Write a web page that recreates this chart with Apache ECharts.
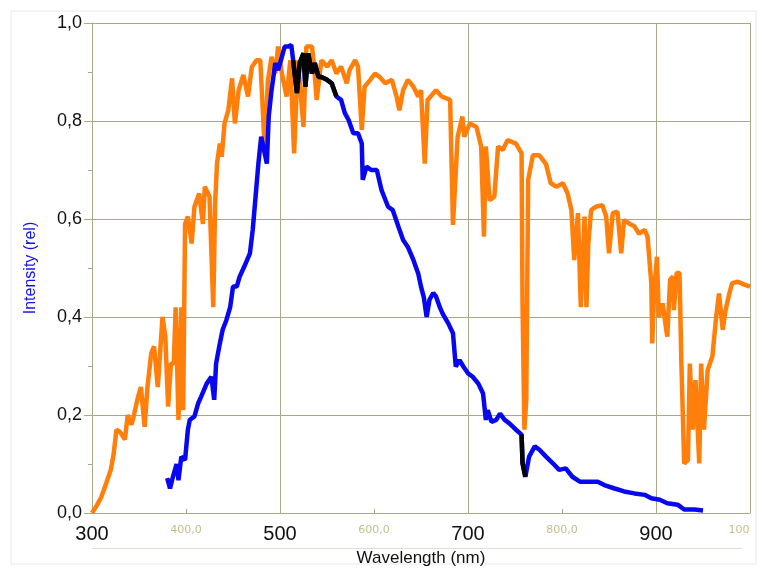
<!DOCTYPE html>
<html>
<head>
<meta charset="utf-8">
<script src="https://cdn.jsdelivr.net/npm/echarts@6/dist/echarts.min.js"></script>
<style>
html,body{margin:0;padding:0;background:#fff;overflow:hidden;}
#chart{width:763px;height:568px;}
</style>
</head>
<body>
<div id="chart"></div>
<script>
// Sun spectrum (orange)
const orangeWl = [300,305,310,315,320,323,326,330,335,338,342,344,349,352,356,359,363,366,370,375,378,381,384,387,389,392,395,397,399,402,406,409,414,418,420,425,429,431,433,436,438,441,445,449,452,456,461,466,470,475,479,481,484,487,491,495,498,502,507,511,515,519,525,528,534,536,539,544,550,555,560,565,571,574,580,583,587,590,596,601,606,612,619,624,627,631,636,642,647,650,654,657,666,672,681,684,689,694,696,702,709,714,717,719,723,728,732,737,742,751,757,758,760,762,764,769,776,783,788,794,801,806,810,813,817,820,824,826,828,831,836,843,847,850,854,859,863,866,872,877,882,888,891,895,896,898,901,903,907,910,912,915,918,919,922,925,927,930,934,936,939,942,946,948,951,955,960,964,967,971,974,978,981,987,994,1000];
const orangeVal = [0.00,0.015,0.033,0.06,0.088,0.12,0.17,0.165,0.15,0.20,0.18,0.195,0.237,0.257,0.176,0.257,0.326,0.34,0.257,0.40,0.36,0.217,0.305,0.305,0.42,0.19,0.42,0.21,0.59,0.605,0.55,0.625,0.652,0.59,0.666,0.646,0.42,0.632,0.713,0.754,0.727,0.795,0.822,0.887,0.795,0.863,0.894,0.85,0.91,0.924,0.924,0.85,0.73,0.88,0.931,0.897,0.952,0.897,0.85,0.924,0.734,0.924,0.788,0.952,0.952,0.918,0.843,0.924,0.911,0.924,0.897,0.911,0.877,0.904,0.924,0.911,0.782,0.87,0.884,0.897,0.89,0.877,0.884,0.85,0.822,0.863,0.884,0.87,0.85,0.863,0.713,0.843,0.863,0.85,0.843,0.588,0.768,0.809,0.768,0.795,0.788,0.748,0.564,0.748,0.638,0.646,0.748,0.741,0.761,0.754,0.734,0.428,0.17,0.23,0.68,0.73,0.73,0.712,0.673,0.666,0.673,0.652,0.618,0.516,0.612,0.42,0.605,0.42,0.55,0.618,0.625,0.628,0.605,0.53,0.612,0.615,0.53,0.598,0.59,0.585,0.57,0.578,0.564,0.469,0.346,0.448,0.523,0.40,0.428,0.387,0.36,0.476,0.483,0.414,0.49,0.49,0.305,0.101,0.108,0.305,0.17,0.271,0.101,0.305,0.17,0.292,0.32,0.40,0.448,0.374,0.414,0.448,0.469,0.472,0.466,0.462];

// Lamp / measured spectrum (blue)
const blueWl = [380,383,386,390,392,395,399,402,404,409,413,416,422,427,430,432,436,439,443,447,450,454,457,462,468,471,474,477,480,483,486,488,491,495,498,502,505,509,512,514,518,521,525,527,530,534,537,541,544,550,555,560,565,569,573,578,583,587,588,592,597,603,608,615,620,626,631,636,642,647,650,653,656,659,663,666,670,673,679,684,687,691,695,700,705,711,716,719,721,725,730,734,739,744,751,757,758,761,765,771,776,783,790,797,804,811,819,827,838,845,856,866,877,888,895,904,912,923,930,941,950];
const blueVal = [0.071,0.05,0.073,0.10,0.067,0.115,0.108,0.17,0.19,0.197,0.224,0.237,0.264,0.278,0.231,0.305,0.346,0.374,0.394,0.42,0.462,0.462,0.482,0.503,0.53,0.578,0.645,0.713,0.768,0.741,0.713,0.809,0.863,0.918,0.904,0.931,0.952,0.952,0.955,0.924,0.857,0.918,0.938,0.87,0.938,0.897,0.918,0.89,0.89,0.884,0.877,0.85,0.843,0.816,0.802,0.775,0.775,0.754,0.68,0.707,0.70,0.70,0.659,0.625,0.618,0.584,0.557,0.543,0.516,0.489,0.462,0.44,0.40,0.435,0.449,0.442,0.42,0.407,0.387,0.367,0.299,0.312,0.299,0.285,0.278,0.264,0.244,0.19,0.21,0.186,0.19,0.203,0.19,0.183,0.17,0.16,0.102,0.074,0.115,0.136,0.129,0.115,0.102,0.088,0.091,0.074,0.064,0.064,0.064,0.057,0.05,0.044,0.04,0.037,0.03,0.027,0.02,0.017,0.007,0.007,0.005];

// Overlap segments (black)
const blackAWl = [514,518,521,525,527,530,534,537,541,544,550,555,560];
const blackAVal = [0.924,0.857,0.918,0.938,0.87,0.938,0.897,0.918,0.89,0.89,0.884,0.877,0.85];
const blackBWl = [757,758,761];
const blackBVal = [0.16,0.102,0.074];

const yTicks = [0,0.2,0.4,0.6,0.8,1.0];
const majorX = [300,500,700,900];

function zip(a,b){ return a.map((x,i)=>[x,b[i]]); }

const olive = '#a9a98a';
const chart = echarts.init(document.getElementById('chart'), null, {renderer:'canvas'});
chart.setOption({
  animation:false,
  backgroundColor:'#fff',
  grid:{left:92,right:13,top:23,bottom:55,containLabel:false,outerBoundsMode:'none'},
  graphic:[
    {type:'rect',shape:{x:11,y:11,width:745,height:553},style:{fill:'none',stroke:'#e8e8e8',lineWidth:1},z:-1},
    {type:'line',shape:{x1:92,y1:548.5,x2:742,y2:548.5},style:{stroke:'#e0e0d0',lineWidth:1},z:-1}
  ],
  xAxis:[
    {
      type:'value',min:300,max:1000,interval:100,position:'bottom',
      name:'Wavelength (nm)',nameLocation:'middle',nameGap:37,
      nameTextStyle:{fontFamily:'Liberation Sans',fontSize:17,color:'#111',verticalAlign:'top'},
      axisLine:{show:true,lineStyle:{color:olive,width:1}},
      axisTick:{show:true,inside:true,length:4,lineStyle:{color:olive}},
      splitLine:{show:false},
      axisLabel:{
        margin:10,
        formatter:function(v){
          if (majorX.indexOf(v) >= 0) return '{a|' + v + '}';
          if (v === 1000) return '{c|100}';
          return '{b|' + v + ',0}';
        },
        rich:{
          a:{fontFamily:'Liberation Sans',fontSize:20,color:'#111',lineHeight:22},
          b:{fontFamily:'DejaVu Sans',fontSize:11,color:'#c5bc8c',lineHeight:14},
          c:{fontFamily:'DejaVu Sans',fontSize:11,color:'#c5bc8c',lineHeight:14,padding:[0,22,0,0]}
        }
      }
    },
    {
      type:'value',min:300,max:1000,interval:200,position:'bottom',
      axisLine:{show:false},axisTick:{show:false},axisLabel:{show:false},
      splitLine:{show:true,lineStyle:{color:olive,width:1}}
    }
  ],
  yAxis:{
    type:'value',min:0,max:1,interval:0.2,
    name:'Intensity (rel)',nameLocation:'middle',nameGap:53,
    nameTextStyle:{fontFamily:'Liberation Sans',fontSize:16,color:'#1010ee'},
    axisLine:{show:true,lineStyle:{color:olive,width:1}},
    axisTick:{show:true,length:8,lineStyle:{color:olive}},
    minorTick:{show:true,splitNumber:2,length:4,lineStyle:{color:olive}},
    splitLine:{show:true,lineStyle:{color:olive,width:1}},
    axisLabel:{
      margin:10,fontFamily:'Liberation Sans',fontSize:18,color:'#111',
      formatter:function(v){ return v.toFixed(1).replace('.',','); }
    }
  },
  series:[
    {type:'line',xAxisIndex:0,data:zip(orangeWl,orangeVal),showSymbol:false,symbol:'none',
     lineStyle:{color:'#ff7f0a',width:4.5},z:2},
    {type:'line',xAxisIndex:0,data:zip(blueWl,blueVal),showSymbol:false,symbol:'none',
     lineStyle:{color:'#0808f0',width:4.5},z:3},
    {type:'line',xAxisIndex:0,data:zip(blackAWl,blackAVal),showSymbol:false,symbol:'none',
     lineStyle:{color:'#050505',width:4.5},z:4},
    {type:'line',xAxisIndex:0,data:zip(blackBWl,blackBVal),showSymbol:false,symbol:'none',
     lineStyle:{color:'#050505',width:4.5},z:4}
  ]
});
</script>
</body>
</html>
